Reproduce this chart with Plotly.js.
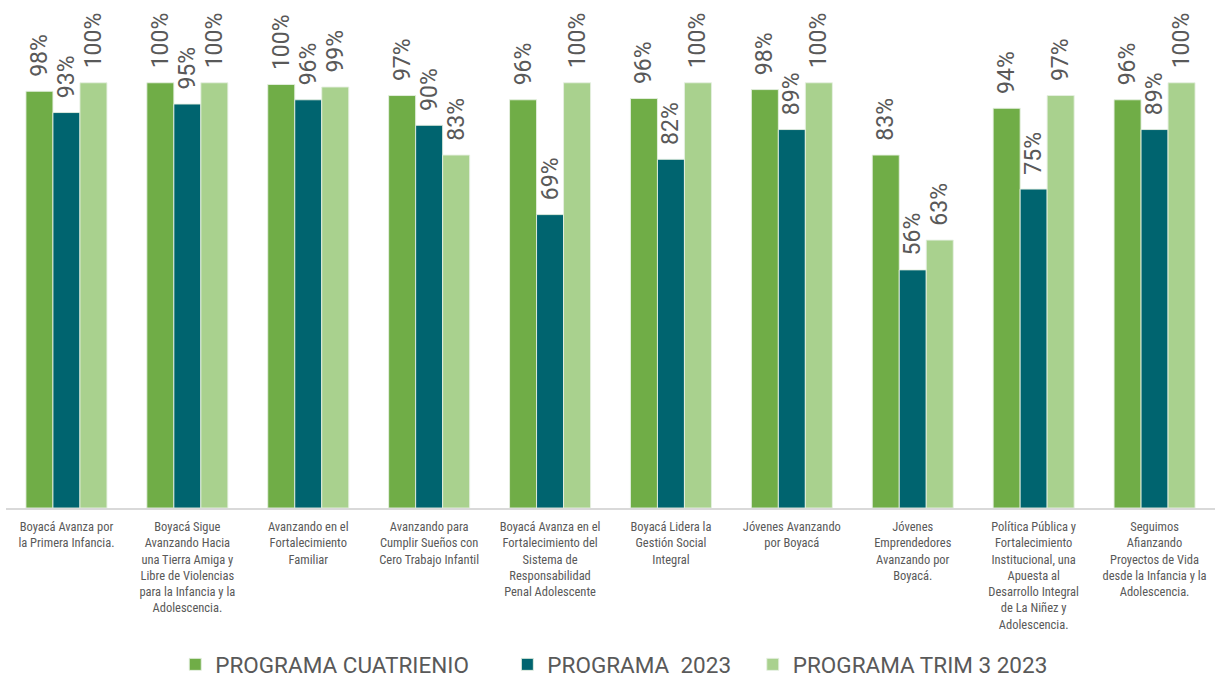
<!DOCTYPE html>
<html><head><meta charset="utf-8">
<script src="https://cdn.plot.ly/plotly-3.0.1.min.js"></script>
<style>html,body{margin:0;padding:0;background:#fff}#chart{width:1217px;height:679px}</style>
</head><body><div id="chart"></div>
<script>
const categories = [
  "Boyacá Avanza por<br>la Primera Infancia.",
  "Boyacá Sigue<br>Avanzando Hacia<br>una Tierra Amiga y<br>Libre de Violencias<br>para la Infancia y la<br>Adolescencia.",
  "Avanzando en el<br>Fortalecimiento<br>Familiar",
  "Avanzando para<br>Cumplir Sueños con<br>Cero Trabajo Infantil",
  "Boyacá Avanza en el<br>Fortalecimiento del<br>Sistema de<br>Responsabilidad<br>Penal Adolescente",
  "Boyacá Lidera la<br>Gestión Social<br>Integral",
  "Jóvenes Avanzando<br>por Boyacá",
  "Jóvenes<br>Emprendedores<br>Avanzando por<br>Boyacá.",
  "Política Pública y<br>Fortalecimiento<br>Institucional, una<br>Apuesta al<br>Desarrollo Integral<br>de La Niñez y<br>Adolescencia.",
  "Seguimos<br>Afianzando<br>Proyectos de Vida<br>desde la Infancia y la<br>Adolescencia."
];
const cuatrienio = [0.98, 1.00, 0.996, 0.97, 0.96, 0.963, 0.984, 0.83, 0.94, 0.96];
const prog2023   = [0.93, 0.95, 0.96, 0.90, 0.69, 0.82, 0.89, 0.56, 0.75, 0.89];
const trim3      = [1.00, 1.00, 0.99, 0.83, 1.00, 1.00, 1.00, 0.63, 0.97, 1.00];
const labels1 = ["98%", "100%", "100%", "97%", "96%", "96%", "98%", "83%", "94%", "96%"];
const labels2 = ["93%", "95%", "96%", "90%", "69%", "82%", "89%", "56%", "75%", "89%"];
const labels3 = ["100%", "100%", "99%", "83%", "100%", "100%", "100%", "63%", "97%", "100%"];
const seriesNames = ["PROGRAMA CUATRIENIO", "PROGRAMA\u00a0 2023", "PROGRAMA TRIM 3 2023"];
const colors = ["#70AD47", "#00646F", "#A9D18E"];

const idx = categories.map((_, i) => i);
const narrow = "'Liberation Sans Narrow', 'Roboto Condensed', Roboto, sans-serif";
const pads = ["\u00a0\u00a0\u00a0\u00a0\u00a0\u00a0", "\u00a0\u00a0\u00a0", ""];
function mk(vals, labels, i) {
  return {
    type: 'bar', x: idx, y: vals, name: seriesNames[i] + pads[i],
    marker: {color: colors[i], line: {color: 'rgba(230,240,225,0.9)', width: 1}},
    text: labels.map(s => '\u00a0\u00a0' + s),
    textposition: 'outside', textangle: -90, cliponaxis: false, constraintext: 'none',
    textfont: {size: 23, color: '#595959', family: "Roboto, sans-serif"},
    hoverinfo: 'none'
  };
}
const data = [mk(cuatrienio, labels1, 0), mk(prog2023, labels2, 1), mk(trim3, labels3, 2)];
const layout = {
  width: 1217, height: 679,
  margin: {l: 6, r: 2, t: 19, b: 171},
  barmode: 'group', bargap: 0.33, bargroupgap: 0,
  paper_bgcolor: '#fff', plot_bgcolor: '#fff',
  font: {family: narrow, color: '#595959'},
  xaxis: {
    tickmode: 'array', tickvals: idx, ticktext: categories,
    range: [-0.5, 9.5], showline: true, linecolor: '#d9d9d9', linewidth: 2,
    ticks: '', showgrid: false, zeroline: false, ticklabelstandoff: 6,
    tickfont: {size: 12.5, color: '#595959', family: narrow}, tickangle: 0, automargin: false
  },
  yaxis: {range: [0, 1.15], visible: false, showgrid: false, zeroline: false, automargin: false},
  showlegend: true,
  legend: {
    orientation: 'h', x: 0.144, xanchor: 'left', xref: 'container',
    y: 0.021, yanchor: 'middle', yref: 'container',
    font: {size: 22.5, color: '#595959', family: "Roboto, sans-serif"},
    itemwidth: 30, traceorder: 'normal'
  }
};
Plotly.newPlot('chart', data, layout, {displayModeBar: false, staticPlot: true});
</script></body></html>
